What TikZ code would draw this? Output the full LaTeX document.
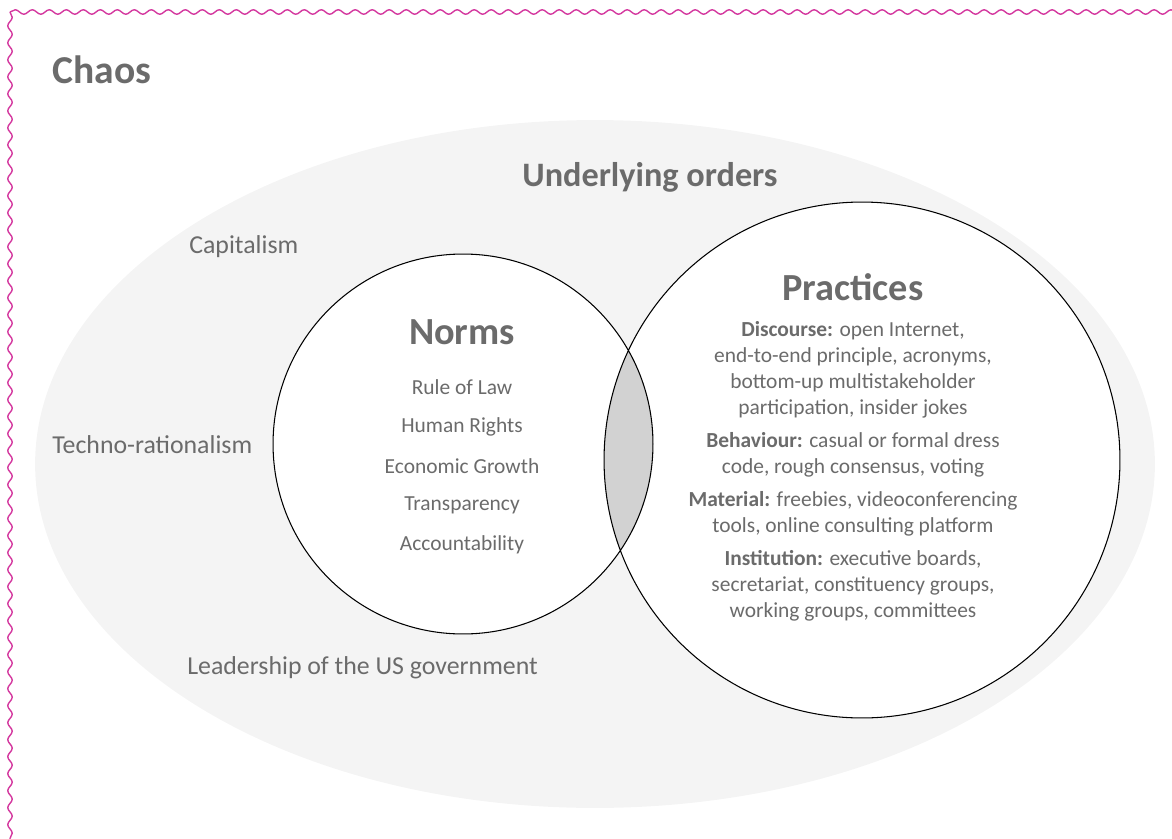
\documentclass[tikz,border=0pt]{standalone}
\usepackage{fontspec}
\setmainfont{Carlito}
\usetikzlibrary{positioning, decorations.pathmorphing}

\definecolor{txtgray}{HTML}{6B6B6B}
\definecolor{orderfill}{HTML}{F4F4F4}
\definecolor{overlapfill}{HTML}{D2D2D2}
\definecolor{chaospink}{HTML}{D4399F}

\begin{document}
\begin{tikzpicture}
[
    x=0.02cm, y=-0.02cm,
    % coordinates are pixels of the sketch: origin top left, y grows downwards
    title/.style = {text=txtgray, font=\bfseries\fontsize{21.8}{26}\selectfont, inner sep=0pt},
    side/.style  = {text=txtgray, font=\fontsize{14.7}{17}\selectfont, inner sep=0pt, anchor=west},
    item/.style  = {text=txtgray, font=\fontsize{12.2}{14.8}\selectfont, inner sep=0pt},
    ring/.style  = {circle, fill=white, inner sep=0pt},
    wave/.style  = {chaospink, line width=0.8pt, decorate,
                    decoration={snake, segment length=0.34cm, amplitude=0.045cm}}
]

\useasboundingbox (0,0) rectangle (1172,838);

%=================================== Chaos ===================================
% wavy edge only on top and left
\coordinate (corner) at (10,12);
\coordinate (top-end) at (1180,12);
\coordinate (left-end) at (10,846);
\draw[wave] (corner) -- (top-end);
\draw[wave] (corner) -- (left-end);
\node[title, anchor=west, font=\bfseries\fontsize{22.5}{27}\selectfont] (chaos) at (52,70) {Chaos};

%============================== Underlying orders ============================
\fill[orderfill] (595,464) ellipse [x radius=11.2cm, y radius=6.88cm];
\node[title, font=\bfseries\fontsize{19.5}{23}\selectfont] (orders) at (650,177) {Underlying orders};

\node[side] (capitalism) at (189,247) {Capitalism};
\node[side] (techno)     at (52,445)  {Techno-rationalism};
\node[side] (leadership) at (187,668) {Leadership of the US government};

%=========================== Norms and practices =============================
\node[ring, minimum size=7.6cm]  (norms)     at (463,444) {};
\node[ring, minimum size=10.32cm] (practices) at (862,460) {};

% overlap of the two circles
\begin{scope}
    \clip (norms.center) circle [radius=3.8cm];
    \fill[overlapfill] (practices.center) circle [radius=5.16cm];
\end{scope}
\draw[line width=0.6pt] (norms.center) circle [radius=3.8cm]
                        (practices.center) circle [radius=5.16cm];

\node[title] (norms-title) at (462,332) {Norms};
\foreach \t [count=\i] in {Rule of Law, Human Rights, Economic Growth, Transparency, Accountability}
    \node[item] (norm-\i) at (462,{387+39.5*(\i-1)}) {\t};

\node[title] (practices-title) at (853,287) {Practices};
\node[item, align=center, anchor=north] (practices-body) at (853,321)
    {\textbf{Discourse:} open Internet,\\
     end-to-end principle, acronyms,\\
     bottom-up multistakeholder\\
     participation, insider jokes\\[4pt]
     \textbf{Behaviour:} casual or formal dress\\
     code, rough consensus, voting\\[4pt]
     \textbf{Material:} freebies, videoconferencing\\
     tools, online consulting platform\\[4pt]
     \textbf{Institution:} executive boards,\\
     secretariat, constituency groups,\\
     working groups, committees};
%==================================== END ====================================

\end{tikzpicture}
\end{document}
